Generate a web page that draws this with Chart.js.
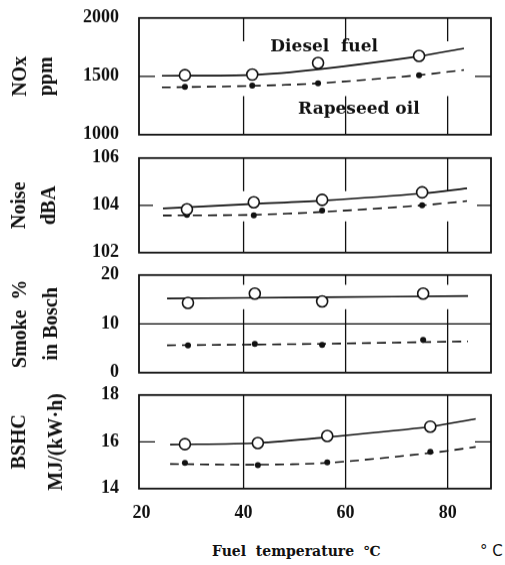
<!DOCTYPE html>
<html>
<head>
<meta charset="utf-8">
<script src="https://cdn.jsdelivr.net/npm/chart.js@4.4.1/dist/chart.umd.min.js"></script>
<style>
    html, body { margin: 0; padding: 0; background: #fff; }
    #wrap { position: relative; width: 505px; height: 565px; overflow: hidden; }
    .panel { position: absolute; left: 0; width: 505px; }
    .xlabel { position: absolute; font: bold 14px 'DejaVu Serif', serif; color: #111; white-space: pre; }
</style>
</head>
<body>
<div id="wrap">
    <div class="panel" style="top:-12.8px;height:177.6px"><canvas id="noxChart"></canvas></div>
    <div class="panel" style="top:127.2px;height:155.6px"><canvas id="noiseChart"></canvas></div>
    <div class="panel" style="top:244.2px;height:158.6px"><canvas id="smokeChart"></canvas></div>
    <div class="panel" style="top:364.2px;height:163.8px"><canvas id="bshcChart"></canvas></div>
    <div class="xlabel" style="left:212px;top:543px">Fuel  temperature  ℃</div>
    <div class="xlabel" style="left:480px;top:542px;font-family:'DejaVu Sans',sans-serif;font-weight:normal;font-size:15px">° C</div>
</div>
<script>
// x axis (fuel temperature, °C)
const xTicks = [20, 40, 60, 80];

// NOx, ppm
const noxTemps = [28.5, 41.7, 54.6, 74.4];
const noxDiesel = [1510, 1515, 1615, 1675];
const noxRapeseed = [1410, 1420, 1440, 1510];
const noxFitTemps = [24, 41.7, 54.6, 74.4, 83.2];
const noxDieselFit = [1505, 1512, 1560, 1672, 1740];
const noxRapeseedFit = [1405, 1418, 1440, 1510, 1555];

// Noise, dBA
const noiseTemps = [28.9, 42, 55.4, 75];
const noiseDiesel = [103.83, 104.13, 104.23, 104.55];
const noiseRapeseed = [103.6, 103.58, 103.78, 104.0];
const noiseFitTemps = [24.2, 42, 55.4, 75, 83.8];
const noiseDieselFit = [103.87, 104.06, 104.2, 104.5, 104.72];
const noiseRapeseedFit = [103.57, 103.6, 103.72, 104.0, 104.18];

// Smoke %, in Bosch
const smokeTemps = [29.1, 42.2, 55.4, 75.2];
const smokeDiesel = [14.3, 16.2, 14.6, 16.2];
const smokeRapeseed = [5.6, 5.9, 5.7, 6.7];
const smokeFitTemps = [25, 55, 84];
const smokeDieselFit = [15.2, 15.45, 15.7];
const smokeRapeseedFit = [5.6, 5.9, 6.4];

// BSHC, MJ/(kW·h)
const bshcTemps = [28.5, 42.8, 56.4, 76.6];
const bshcDiesel = [15.9, 15.95, 16.25, 16.65];
const bshcRapeseed = [15.1, 15.0, 15.12, 15.57];
const bshcFitTemps = [25.6, 42.8, 56.4, 76.6, 85.5];
const bshcDieselFit = [15.88, 15.95, 16.2, 16.65, 16.98];
const bshcRapeseedFit = [15.05, 15.02, 15.1, 15.52, 15.78];

const ink = '#111';
const serif = "'Liberation Serif', 'Times New Roman', serif";
const tickFont = { family: serif, size: 18, weight: 'bold' };

const pts = (xs, ys) => xs.map((x, i) => ({ x: x, y: ys[i] }));

// box + inner grid strokes
const framePlugin = {
    id: 'frame',
    beforeDatasetsDraw(chart, args, opts) {
        const { ctx, chartArea: a, scales: { x, y } } = chart;
        ctx.save();
        ctx.strokeStyle = ink;
        ctx.lineWidth = 1.3;
        ctx.beginPath();
        xTicks.slice(1).forEach(v => {
            const px = x.getPixelForValue(v);
            ctx.moveTo(px, a.top);
            ctx.lineTo(px, a.top + opts.vTop * a.height);
            ctx.moveTo(px, a.bottom - opts.vBottom * a.height);
            ctx.lineTo(px, a.bottom);
        });
        const py = y.getPixelForValue((y.min + y.max) / 2);
        if (opts.hLen) {
            ctx.moveTo(a.left, py); ctx.lineTo(a.left + opts.hLen, py);
            ctx.moveTo(a.right - opts.hLen, py); ctx.lineTo(a.right, py);
        } else {
            ctx.moveTo(a.left, py); ctx.lineTo(a.right, py);
        }
        ctx.stroke();
        ctx.lineWidth = 1.8;
        ctx.strokeRect(a.left, a.top, a.width, a.height);
        ctx.restore();
    }
};

// curve labels placed in data space
const notesPlugin = {
    id: 'notes',
    afterDatasetsDraw(chart, args, opts) {
        const { ctx, scales: { x, y } } = chart;
        ctx.save();
        ctx.fillStyle = ink;
        ctx.font = "bold 17px 'DejaVu Serif', serif";
        ctx.textAlign = 'center';
        ctx.textBaseline = 'middle';
        (opts.items || []).forEach(n => {
            ctx.fillText(n.text, x.getPixelForValue(n.x), y.getPixelForValue(n.y));
        });
        ctx.restore();
    }
};

function makePanel(id, p) {
    return new Chart(document.getElementById(id), {
        type: 'scatter',
        data: {
            datasets: [
                { data: pts(p.temps, p.diesel), pointRadius: 5.5, pointBackgroundColor: '#fff', pointBorderColor: ink, pointBorderWidth: 1.6 },
                { data: pts(p.temps, p.rapeseed), pointRadius: 3, pointBackgroundColor: ink, pointBorderColor: ink, pointBorderWidth: 0 },
                { data: pts(p.fitTemps, p.dieselFit), showLine: true, pointRadius: 0, borderColor: ink, borderWidth: 1.6, tension: 0.3 },
                { data: pts(p.fitTemps, p.rapeseedFit), showLine: true, pointRadius: 0, borderColor: ink, borderWidth: 1.6, borderDash: [9, 6], tension: 0.3 }
            ]
        },
        options: {
            animation: false,
            responsive: true,
            maintainAspectRatio: false,
            layout: { padding: { top: 0, right: 14, bottom: 0, left: 0 } },
            plugins: {
                legend: { display: false },
                tooltip: { enabled: false },
                frame: p.frame,
                notes: { items: p.notes || [] }
            },
            scales: {
                x: {
                    type: 'linear', min: 19.5, max: 88.5,
                    display: !!p.last,
                    grid: { display: false, drawTicks: false },
                    border: { display: false },
                    afterBuildTicks: s => { s.ticks = xTicks.map(v => ({ value: v })); },
                    ticks: { font: tickFont, color: ink, padding: 14 },
                    afterFit: s => { if (p.last) s.height = 40; }
                },
                y: {
                    min: p.min, max: p.max,
                    grid: { display: false, drawTicks: false },
                    border: { display: false },
                    afterBuildTicks: s => { s.ticks = [p.min, (p.min + p.max) / 2, p.max].map(v => ({ value: v })); },
                    ticks: { font: tickFont, color: ink, padding: 20, callback: v => String(v) },
                    title: {
                        display: true, text: p.title, color: ink,
                        font: { family: serif, size: 20, weight: 'bold', lineHeight: p.titleLH },
                        padding: { top: p.titlePad, bottom: 0 }
                    },
                    afterFit: s => { s.width = 139; }
                }
            }
        },
        plugins: [framePlugin, notesPlugin]
    });
}

makePanel('noxChart', {
    temps: noxTemps, diesel: noxDiesel, rapeseed: noxRapeseed,
    fitTemps: noxFitTemps, dieselFit: noxDieselFit, rapeseedFit: noxRapeseedFit,
    min: 1000, max: 2000, title: ['NOx', 'ppm'], titleLH: 1.3, titlePad: 8,
    frame: { vTop: 0.2, vBottom: 0.33, hLen: 16 },
    notes: [{ text: 'Diesel  fuel', x: 55.8, y: 1750 }, { text: 'Rapeseed oil', x: 62.6, y: 1215 }]
});
makePanel('noiseChart', {
    temps: noiseTemps, diesel: noiseDiesel, rapeseed: noiseRapeseed,
    fitTemps: noiseFitTemps, dieselFit: noiseDieselFit, rapeseedFit: noiseRapeseedFit,
    min: 102, max: 106, title: ['Noise', 'dBA'], titleLH: 1.5, titlePad: 5,
    frame: { vTop: 0.35, vBottom: 0.33, hLen: 14 }
});
makePanel('smokeChart', {
    temps: smokeTemps, diesel: smokeDiesel, rapeseed: smokeRapeseed,
    fitTemps: smokeFitTemps, dieselFit: smokeDieselFit, rapeseedFit: smokeRapeseedFit,
    min: 0, max: 20, title: ['Smoke  %', 'in Bosch'], titleLH: 1.55, titlePad: 5,
    frame: { vTop: 0.1, vBottom: 0.65, hLen: 0 }
});
makePanel('bshcChart', {
    temps: bshcTemps, diesel: bshcDiesel, rapeseed: bshcRapeseed,
    fitTemps: bshcFitTemps, dieselFit: bshcDieselFit, rapeseedFit: bshcRapeseedFit,
    min: 14, max: 18, title: ['BSHC', 'MJ/(kW·h)'], titleLH: 1.85, titlePad: 1,
    frame: { vTop: 0.6, vBottom: 0.6, hLen: 16 },
    last: true
});
</script>
</body>
</html>
